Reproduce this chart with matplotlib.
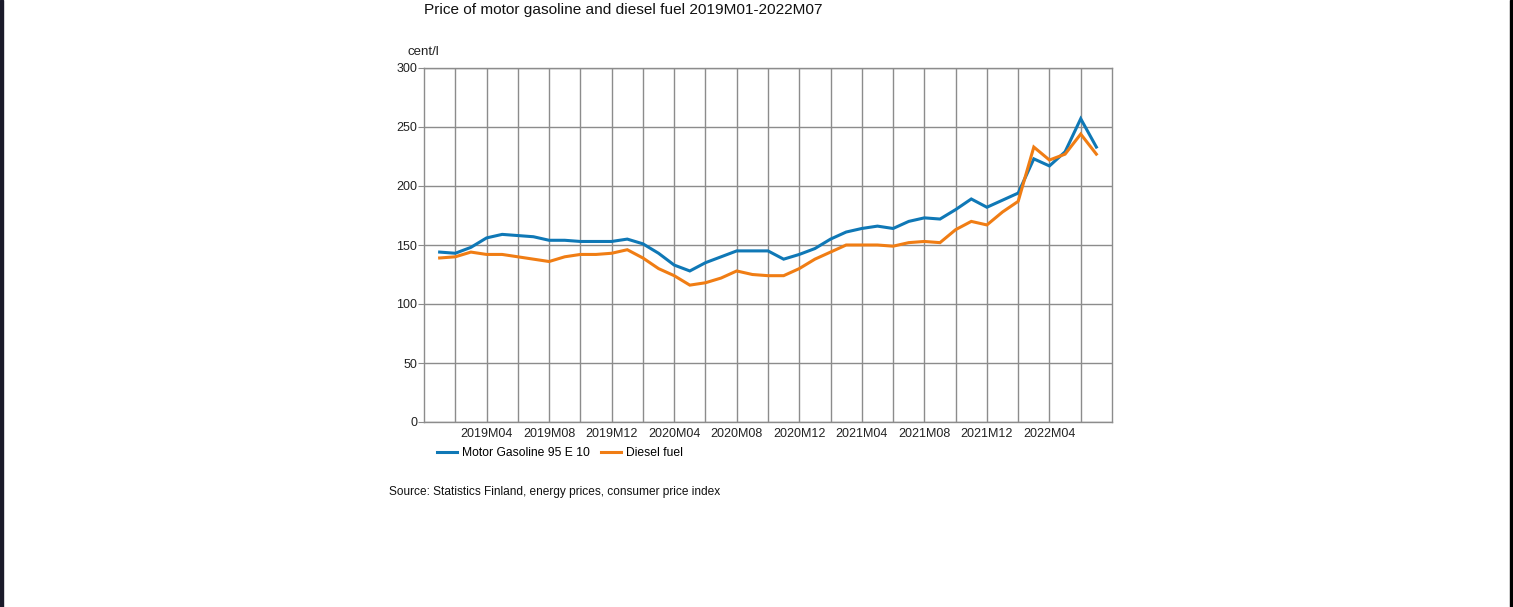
import matplotlib
matplotlib.use("Agg")
import matplotlib.pyplot as plt
from matplotlib.patches import Rectangle
from matplotlib.lines import Line2D

plt.rcParams['font.family'] = ['Liberation Sans', 'DejaVu Sans']

years = [2019, 2020, 2021, 2022]
months = [f"{y}M{m:02d}" for y in years for m in range(1, 13)][:43]

gasoline = [144, 143, 148, 156, 159, 158, 157, 154, 154, 153, 153, 153,
            155, 151, 143, 133, 128, 135, 140, 145, 145, 145, 138, 142,
            147, 155, 161, 164, 166, 164, 170, 173, 172, 180, 189, 182,
            188, 194, 223, 217, 229, 257, 233]
diesel = [139, 140, 144, 142, 142, 140, 138, 136, 140, 142, 142, 143,
          146, 139, 130, 124, 116, 118, 122, 128, 125, 124, 124, 130,
          138, 144, 150, 150, 150, 149, 152, 153, 152, 163, 170, 167,
          178, 187, 233, 222, 227, 244, 227]

title = "Price of motor gasoline and diesel fuel 2019M01-2022M07"
unit = "cent/l"
source = "Source: Statistics Finland, energy prices, consumer price index"
series_names = ["Motor Gasoline 95 E 10", "Diesel fuel"]
colors = ["#0f78b6", "#f07d14"]

W, H = 1513, 607
fig = plt.figure(figsize=(W / 100, H / 100), dpi=100)
ax = fig.add_axes([424 / W, 1 - 422 / H, (1112 - 424) / W, (422 - 68) / H])

x = list(range(len(months)))
ax.plot(x, gasoline, color=colors[0], lw=2.2, solid_joinstyle='miter')
ax.plot(x, diesel, color=colors[1], lw=2.2, solid_joinstyle='miter')

ax.set_xlim(-1, len(months))
ax.set_ylim(0, 300)
ax.set_yticks([0, 50, 100, 150, 200, 250, 300])
ax.set_xticks(list(range(1, len(months), 2)), minor=False)
ax.set_xticklabels([months[i] if (i % 4 == 3) else "" for i in range(1, len(months), 2)])
ax.grid(True, color="#8c8c8c", lw=1)
ax.set_axisbelow(True)
for s in ax.spines.values():
    s.set_color("#8c8c8c")
    s.set_linewidth(1)
ax.tick_params(axis='both', length=0, labelsize=9, colors="#222222", pad=4)
ax.tick_params(axis='y', length=4, color="#8c8c8c", pad=1)

fig.text(424 / W, 1 - 10 / H, title, fontsize=11.1, ha='left', va='center', color="#111111")
fig.text(407 / W, 1 - 52 / H, unit, fontsize=9.5, ha='left', va='center', color="#222222")
fig.text(389 / W, 1 - 492 / H, source, fontsize=8.6, ha='left', va='center', color="#111111")

handles = [Line2D([], [], color=colors[0], lw=2.2), Line2D([], [], color=colors[1], lw=2.2)]
fig.legend(handles, series_names, loc='center left', bbox_to_anchor=(437 / W, 1 - 453 / H),
           ncol=2, frameon=False, fontsize=8.7, handlelength=1.65, handletextpad=0.42,
           columnspacing=0.9, borderaxespad=0, borderpad=0)

fig.patches.append(Rectangle((0, 0), 3 / W, 1, transform=fig.transFigure, color="#1a1a2a", zorder=10))
fig.patches.append(Rectangle((1 - 3 / W, 0), 3 / W, 1, transform=fig.transFigure, color="#000000", zorder=10))

fig.savefig("out.png", dpi=100)
